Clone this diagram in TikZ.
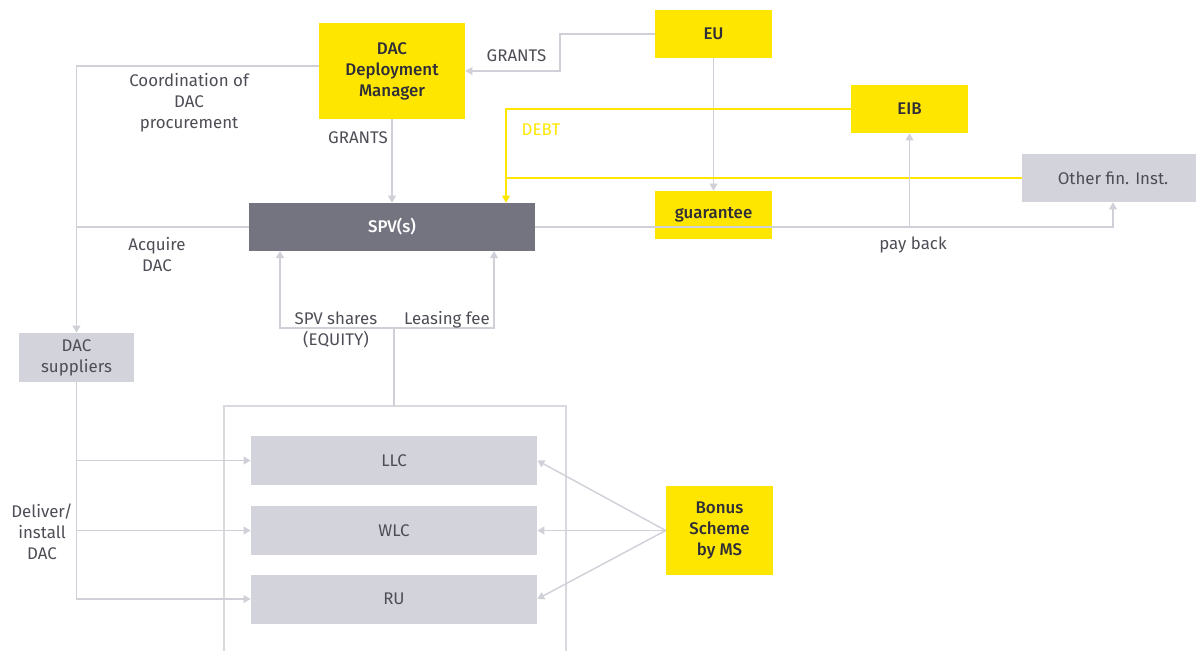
\documentclass[tikz,border=0pt]{standalone}
\usepackage{fontspec}
\setmainfont{Fira Sans}[BoldFont={Fira Sans Medium}]
\usetikzlibrary{arrows.meta}
\definecolor{eyyellow}{HTML}{FFE600}
\definecolor{eygrey}{HTML}{D3D3DB}
\definecolor{eydark}{HTML}{747480}
\definecolor{eyline}{HTML}{D0D0D8}
\definecolor{eytext}{HTML}{2E2E38}
\begin{document}
\begin{tikzpicture}[x=0.025cm,y=-0.025cm,font=\fontsize{12}{15}\selectfont]
\tikzstyle{ybox}=[fill=eyyellow,text=eytext,font=\fontsize{12}{15}\selectfont\bfseries,align=center,inner sep=0pt]
\tikzstyle{gbox}=[fill=eygrey,text=eytext!85,align=center,inner sep=0pt]
\tikzstyle{flow}=[draw=eyline,line width=1pt]
\tikzstyle{arr}=[flow,-{Triangle[length=5pt,width=5.5pt]}]
\tikzstyle{debt}=[draw=eyyellow,line width=1pt]
\tikzstyle{lbl}=[text=eytext!85,align=center]
\useasboundingbox (0,0) rectangle (1196,651);
\node[ybox,minimum width=3.65cm,minimum height=2.4cm] (ddm) at (392,71) {DAC\\Deployment\\Manager};
\node[ybox,minimum width=2.925cm,minimum height=1.2cm] (eu) at (713.5,34) {EU};
\node[ybox,minimum width=2.925cm,minimum height=1.2cm] (eib) at (909.5,109) {EIB};
\node[gbox,minimum width=4.55cm,minimum height=1.2cm] (other) at (1113,178) {Other fin. Inst.};
\node[ybox,minimum width=2.925cm,minimum height=1.2cm] (guar) at (713.5,215) {guarantee};
\node[fill=eydark,text=white,font=\fontsize{12}{15}\selectfont\bfseries,inner sep=0pt,minimum width=7.15cm,minimum height=1.2cm] (spv) at (392,227) {SPV(s)};
\node[gbox,minimum width=2.875cm,minimum height=1.225cm] (supp) at (76.5,357.5) {DAC\\suppliers};
\node[gbox,minimum width=7.15cm,minimum height=1.225cm] (llc) at (394,460.5) {LLC};
\node[gbox,minimum width=7.15cm,minimum height=1.225cm] (wlc) at (394,530.5) {WLC};
\node[gbox,minimum width=7.15cm,minimum height=1.225cm] (ru) at (394,599) {RU};
\node[ybox,minimum width=2.675cm,minimum height=2.225cm] (bonus) at (719.5,530.5) {Bonus\\Scheme\\by MS};
\coordinate (cont) at (394,406);
\coordinate (split) at (394,328);
\coordinate (eqin) at (280,251);
\coordinate (feein) at (494,251);
\coordinate (dj) at (506,178);
\draw[draw=eyline!80,line width=0.8pt] (224,651) |- (cont) -| (566,651);
\draw[arr] (eu.west) -- (560,34) |- (ddm.east);
\draw[arr] (eu.south) -- (guar.north);
\draw[arr] (ddm.south) -- (spv.north);
\draw[arr] ([yshift=0.125cm]ddm.west) -| (supp.north);
\draw[flow] (spv.west) -- (spv.west -| supp.north);
\draw[debt] (eib.west) -| (dj);
\draw[debt,-{Triangle[length=5pt,width=5.5pt]}] (other.west) -- (dj) -- (dj |- spv.north);
\draw[arr] (spv.east) -| (other.south);
\draw[arr] (spv.east -| eib.south) -- (eib.south);
\draw[flow] (cont) -- (split);
\draw[arr] (split) -| (eqin);
\draw[arr] (split) -| (feein);
\draw[arr] (supp.south) |- (ru.west);
\draw[arr] (supp.south |- llc.west) -- (llc.west);
\draw[arr] (supp.south |- wlc.west) -- (wlc.west);
\draw[arr] (bonus.west) -- (llc.east);
\draw[arr] (bonus.west) -- (wlc.east);
\draw[arr] (bonus.west) -- (ru.east);
\node[lbl] (lgrants) at (516.5,56) {GRANTS};
\node[lbl] (lgrants2) at (358,138) {GRANTS};
\node[lbl] (lcoord) at (189,103) {Coordination of\\DAC\\procurement};
\node[lbl] (lacq) at (157,254.5) {Acquire\\DAC};
\node[text=eyyellow] (ldebt) at (541,130) {DEBT};
\node[lbl] (lpay) at (913,245) {pay back};
\node[lbl] (lshares) at (336,330) {SPV shares\\(EQUITY)};
\node[lbl] (lfee) at (447,320) {Leasing fee};
\node[lbl] (ldeliver) at (42,532) {Deliver/\\install\\DAC};
\end{tikzpicture}
\end{document}
